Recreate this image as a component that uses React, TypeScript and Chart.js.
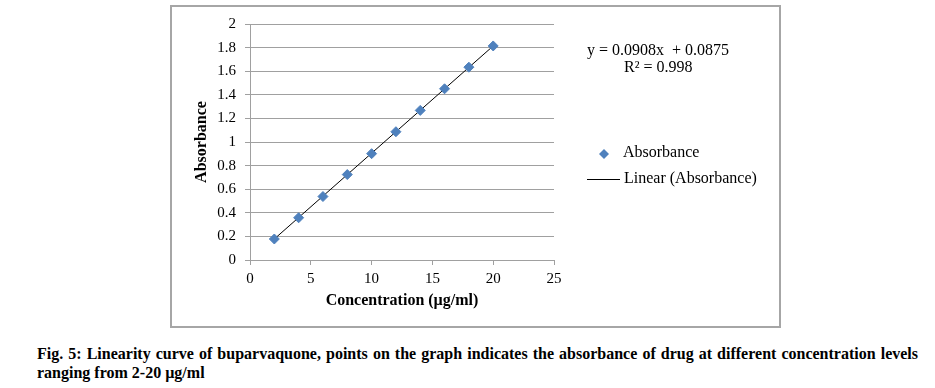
import React, { useEffect, useRef } from "react";
import { Chart, registerables } from "chart.js";

Chart.register(...registerables);

const concentration = [2, 4, 6, 8, 10, 12, 14, 16, 18, 20];
const absorbance = [0.178, 0.358, 0.538, 0.724, 0.901, 1.087, 1.268, 1.451, 1.634, 1.814];
const trendX = [2, 20];
const trendY = [0.178, 1.814];
const yTickLabels = ["0", "0.2", "0.4", "0.6", "0.8", "1", "1.2", "1.4", "1.6", "1.8", "2"];
const xTickLabels = ["0", "5", "10", "15", "20", "25"];
const equationText = "y = 0.0908x  + 0.0875";
const r2Text = "R\u00B2 = 0.998";
const seriesName = "Absorbance";
const trendName = "Linear (Absorbance)";
const xTitle = "Concentration (\u00B5g/ml)";
const yTitle = "Absorbance";
const caption =
  "Fig. 5: Linearity curve of buparvaquone, points on the graph indicates the absorbance of drug at different concentration levels ranging from 2-20 \u00B5g/ml";

const SERIF = "'Liberation Serif', 'Times New Roman', serif";
const BLUE = "#4F81BD";
const GRID = "#a0a0a0";

const overlayPlugin = {
  id: "overlay",
  afterDraw(chart: any) {
    const ctx = chart.ctx;
    const ds0 = chart.data.datasets[0];
    const ds1 = chart.data.datasets[1];
    ctx.save();
    ctx.fillStyle = "#000";
    ctx.textBaseline = "middle";
    ctx.textAlign = "left";
    ctx.font = `16px ${SERIF}`;
    ctx.fillText(equationText, 416, 45);
    ctx.fillText(r2Text, 453, 62);
    // legend: marker
    ctx.fillStyle = ds0.backgroundColor;
    const cx = 433, cy = 148, r = 5;
    ctx.beginPath();
    ctx.moveTo(cx, cy - r);
    ctx.lineTo(cx + r, cy);
    ctx.lineTo(cx, cy + r);
    ctx.lineTo(cx - r, cy);
    ctx.closePath();
    ctx.fill();
    ctx.fillStyle = "#000";
    ctx.fillText(ds0.label, 452, 147);
    // legend: line
    ctx.strokeStyle = ds1.borderColor;
    ctx.lineWidth = 1;
    ctx.beginPath();
    ctx.moveTo(416, 173.5);
    ctx.lineTo(449, 173.5);
    ctx.stroke();
    ctx.fillText(ds1.label, 453, 173);
    ctx.restore();
  },
};

export default function App() {
  const ref = useRef<HTMLCanvasElement>(null);
  useEffect(() => {
    if (!ref.current) return;
    const chart = new Chart(ref.current, {
      type: "scatter",
      data: {
        datasets: [
          {
            label: seriesName,
            data: concentration.map((x, i) => ({ x, y: absorbance[i] })),
            backgroundColor: BLUE,
            borderColor: BLUE,
            borderWidth: 1,
            pointStyle: "rectRot",
            pointRadius: 5,
            showLine: false,
          },
          {
            label: trendName,
            data: trendX.map((x, i) => ({ x, y: trendY[i] })),
            borderColor: "#000",
            backgroundColor: "#000",
            borderWidth: 1,
            pointRadius: 0,
            showLine: true,
          },
        ],
      },
      options: {
        animation: false,
        responsive: false,
        maintainAspectRatio: false,
        layout: { padding: { left: 0, right: 226, top: 17, bottom: 0 } },
        plugins: { legend: { display: false }, tooltip: { enabled: false } },
        scales: {
          x: {
            type: "linear",
            min: 0,
            max: 25,
            afterFit: (s: any) => {
              s.height = 67;
            },
            ticks: {
              stepSize: 5,
              color: "#000",
              padding: 5,
              font: { family: SERIF, size: 15 },
              callback: (_v: any, i: number) => xTickLabels[i],
            },
            grid: { drawOnChartArea: false, drawTicks: true, tickLength: 5, color: GRID },
            border: { display: true, color: GRID },
            title: {
              display: true,
              text: xTitle,
              color: "#000",
              font: { family: SERIF, size: 16, weight: "bold" },
              padding: { top: 0, bottom: 17 },
            },
          },
          y: {
            type: "linear",
            min: 0,
            max: 2,
            afterFit: (s: any) => {
              s.width = 79;
            },
            ticks: {
              stepSize: 0.2,
              color: "#000",
              padding: 9,
              font: { family: SERIF, size: 15 },
              callback: (_v: any, i: number) => yTickLabels[i],
            },
            grid: { color: GRID, tickLength: 5 },
            border: { display: true, color: GRID },
            title: {
              display: true,
              text: yTitle,
              color: "#000",
              font: { family: SERIF, size: 16, weight: "bold" },
              padding: { top: 21, bottom: 0 },
            },
          },
        },
      },
      plugins: [overlayPlugin],
    } as any);
    return () => chart.destroy();
  }, []);

  return (
    <div style={{ position: "fixed", left: 0, top: 0, width: 935, height: 388, background: "#fff" }}>
      <div
        style={{
          position: "absolute",
          left: 171,
          top: 6,
          width: 609,
          height: 321,
        }}
      >
        <canvas ref={ref} width={609} height={321} style={{ width: 609, height: 321, display: "block" }} />
      </div>
      <div
        style={{
          position: "absolute",
          left: 170,
          top: 5,
          width: 611,
          height: 323,
          boxSizing: "border-box",
          border: "2px solid #a6a6a6",
          pointerEvents: "none",
        }}
      />
      <div
        style={{
          position: "absolute",
          left: 37,
          top: 344,
          width: 881,
          fontFamily: SERIF,
          fontWeight: "bold",
          fontSize: 16,
          lineHeight: "19px",
          textAlign: "justify",
          color: "#000",
        }}
      >
        {caption}
      </div>
    </div>
  );
}
